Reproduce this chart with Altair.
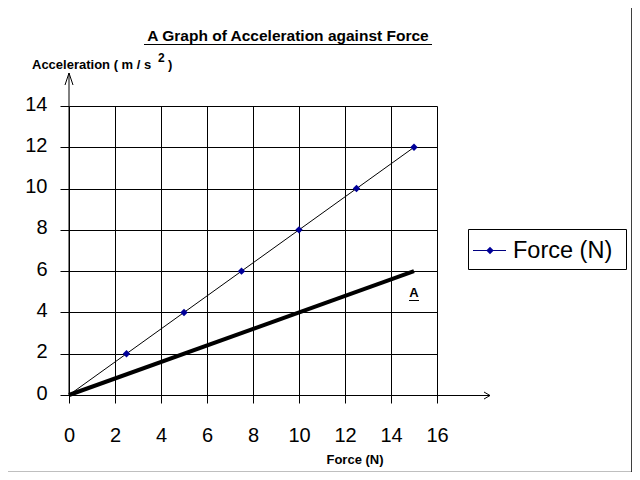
import altair as alt
import pandas as pd

# ---- data ----
force = [0, 2.5, 5, 7.5, 10, 12.5, 15]
accel = [0, 2, 4, 6, 8, 10, 12]
marker_force = [2.5, 5, 7.5, 10, 12.5, 15]
marker_accel = [2, 4, 6, 8, 10, 12]
lineA_force = [0, 15]
lineA_accel = [0, 6]
x_ticks = [0, 2, 4, 6, 8, 10, 12, 14, 16]
y_ticks = [0, 2, 4, 6, 8, 10, 12, 14]
title_text = "A Graph of Acceleration against Force"
y_title = "Acceleration ( m / s"
x_title = "Force (N)"
series_name = "Force (N)"
label_A = "A"

FONT = "Liberation Sans"
W, H = 368, 289

line_df = pd.DataFrame({"force": force, "accel": accel})
marker_df = pd.DataFrame({"force": marker_force, "accel": marker_accel})
lineA_df = pd.DataFrame({"force": lineA_force, "accel": lineA_accel})

xscale = alt.Scale(domain=[0, 16], nice=False, zero=False)
yscale = alt.Scale(domain=[0, 14], nice=False, zero=False)

xaxis = alt.Axis(values=x_ticks, domain=False, grid=True, gridColor="black", gridOpacity=1,
                 gridWidth=1, tickColor="black", tickSize=8, tickWidth=1,
                 labelFont=FONT, labelFontSize=20, labelColor="black",
                 labelPadding=22, labelBaseline="top", title=None, labelFlush=False)
yaxis = alt.Axis(values=y_ticks, domain=False, grid=True, gridColor="black", gridOpacity=1,
                 gridWidth=1, tickColor="black", tickSize=9, tickWidth=1,
                 labelFont=FONT, labelFontSize=20, labelColor="black",
                 labelPadding=13, labelBaseline="middle", labelOffset=-2,
                 title=None, labelFlush=False)

base_line = alt.Chart(line_df).mark_line(color="black", strokeWidth=1).encode(
    x=alt.X("force:Q", scale=xscale, axis=xaxis),
    y=alt.Y("accel:Q", scale=yscale, axis=yaxis),
)
markers = alt.Chart(marker_df).mark_point(shape="diamond", filled=True, color="#000099",
                                          size=55, opacity=1).encode(
    x="force:Q", y="accel:Q")
lineA = alt.Chart(lineA_df).mark_line(color="black", strokeWidth=4).encode(
    x="force:Q", y="accel:Q")

one = alt.Data(values=[{"k": 0}])
def deco():
    return alt.Chart(one)

# page -> plot coordinates: px = X - 69, py = Y - 106
def px(X):
    return X - 69
def py(Y):
    return Y - 106

axis_rules = [
    # x axis with arrow
    deco().mark_rule(color="black", strokeWidth=1).encode(
        x=alt.value(px(69)), x2=alt.value(px(490)), y=alt.value(py(395.5))),
    deco().mark_rule(color="black", strokeWidth=1).encode(
        x=alt.value(px(484)), x2=alt.value(px(490)), y=alt.value(py(392)), y2=alt.value(py(395.5))),
    deco().mark_rule(color="black", strokeWidth=1).encode(
        x=alt.value(px(484)), x2=alt.value(px(490)), y=alt.value(py(399)), y2=alt.value(py(395.5))),
    # y axis with arrow
    deco().mark_rule(color="black", strokeWidth=1).encode(
        x=alt.value(px(69)), y=alt.value(py(73)), y2=alt.value(py(395.5))),
    deco().mark_rule(color="black", strokeWidth=1).encode(
        x=alt.value(px(65)), x2=alt.value(px(69)), y=alt.value(py(85)), y2=alt.value(py(73))),
    deco().mark_rule(color="black", strokeWidth=1).encode(
        x=alt.value(px(73)), x2=alt.value(px(69)), y=alt.value(py(85)), y2=alt.value(py(73))),
]

border = deco().mark_rect(fill=None, filled=False, stroke="black", strokeWidth=1.5).encode(
    x=alt.value(px(6.5)), x2=alt.value(px(632)), y=alt.value(py(5.5)), y2=alt.value(py(472.5)))

title = deco().mark_text(text=title_text, font=FONT, fontSize=15.5, fontWeight="bold",
                         align="center", baseline="alphabetic", color="black").encode(
    x=alt.value(px(288)), y=alt.value(py(41)))
title_ul = deco().mark_rule(color="black", strokeWidth=1).encode(
    x=alt.value(px(144)), x2=alt.value(px(432)), y=alt.value(py(44.5)))

ytitle = deco().mark_text(text=y_title, font=FONT, fontSize=13, fontWeight="bold",
                          align="left", baseline="alphabetic", color="black").encode(
    x=alt.value(px(32)), y=alt.value(py(69)))
ytitle_sup = deco().mark_text(text="2", font=FONT, fontSize=12, fontWeight="bold",
                              align="left", baseline="alphabetic", color="black").encode(
    x=alt.value(px(158)), y=alt.value(py(62)))
ytitle_end = deco().mark_text(text=")", font=FONT, fontSize=13, fontWeight="bold",
                              align="left", baseline="alphabetic", color="black").encode(
    x=alt.value(px(168)), y=alt.value(py(69)))

xtitle = deco().mark_text(text=x_title, font=FONT, fontSize=13, fontWeight="bold",
                          align="center", baseline="alphabetic", color="black").encode(
    x=alt.value(px(355)), y=alt.value(py(464)))

textA = deco().mark_text(text=label_A, font=FONT, fontSize=13, fontWeight="bold",
                         align="center", baseline="alphabetic", color="black").encode(
    x=alt.value(px(414)), y=alt.value(py(297)))
textA_ul = deco().mark_rule(color="black", strokeWidth=1).encode(
    x=alt.value(px(409)), x2=alt.value(px(419)), y=alt.value(py(300.5)))

# legend
leg_box = deco().mark_rect(fill="white", stroke="black", strokeWidth=1).encode(
    x=alt.value(px(468.5)), x2=alt.value(px(626.5)), y=alt.value(py(229.5)), y2=alt.value(py(269.5)))
leg_line = deco().mark_rule(color="#000080", strokeWidth=1).encode(
    x=alt.value(px(473)), x2=alt.value(px(506)), y=alt.value(py(250.5)))
leg_pt = deco().mark_point(shape="diamond", filled=True, color="#000099", size=55, opacity=1).encode(
    x=alt.value(px(490)), y=alt.value(py(250.5)))
leg_txt = deco().mark_text(text=series_name, font=FONT, fontSize=23.5, align="left",
                           baseline="middle", color="black").encode(
    x=alt.value(px(513)), y=alt.value(py(251)))

chart = alt.layer(
    border, base_line, lineA, markers, *axis_rules, title, title_ul,
    ytitle, ytitle_sup, ytitle_end, xtitle, textA, textA_ul,
    leg_box, leg_line, leg_pt, leg_txt,
).properties(
    width=W, height=H,
    autosize=alt.AutoSizeParams(type="none"),
    padding={"left": 61, "top": 98, "right": 195, "bottom": 77},
    background="white",
).configure_view(stroke=None)

chart.save("out.html", embed_options={"renderer": "svg", "actions": False})
